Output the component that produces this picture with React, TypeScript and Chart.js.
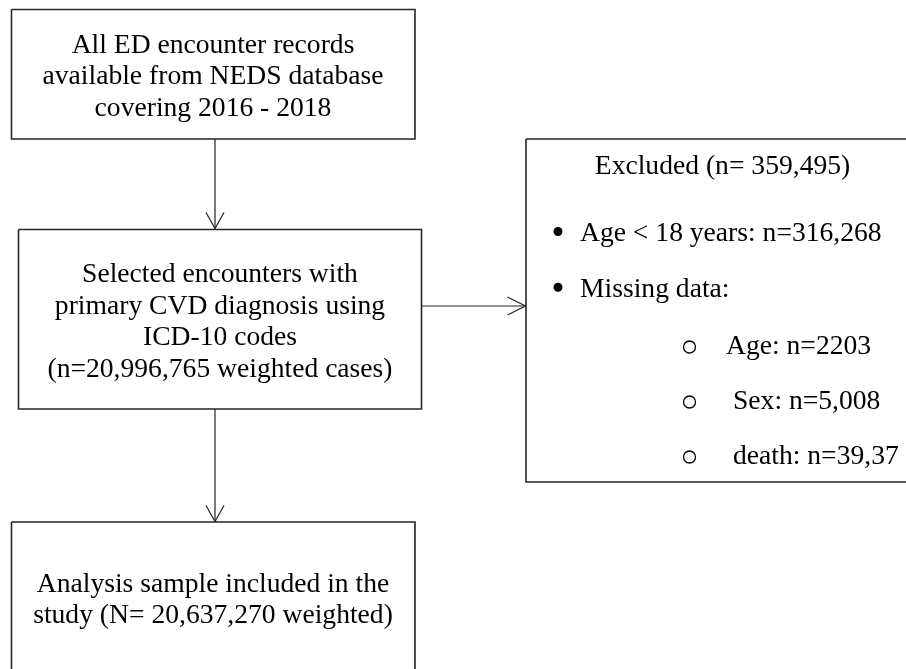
import React, { useEffect, useRef } from "react";
import { Chart, registerables } from "chart.js";

Chart.register(...registerables);

// ---------- content ----------
const box1Lines = ["All ED encounter records", "available from NEDS database", "covering 2016 - 2018"];
const box2Lines = [
  "Selected encounters with",
  "primary CVD diagnosis using",
  "ICD-10 codes",
  "(n=20,996,765 weighted cases)",
];
const excludedTitle = "Excluded (n= 359,495)";
const excludedItems = ["Age < 18 years: n=316,268", "Missing data:"];
const missingItems = ["Age: n=2203", "Sex: n=5,008", "death: n=39,37"];
const box4Lines = ["Analysis sample included in the", "study (N= 20,637,270 weighted)"];

// ---------- layout (data units = pixels) ----------
const W = 906;
const H = 669;
const FONT_SIZE = 27.6;
const LINE = 31.5;
const FONT = `${FONT_SIZE}px "Liberation Serif", "Times New Roman", serif`;

const boxRects = [
  { x0: 11.5, y0: 9.5, x1: 415, y1: 139 },
  { x0: 18.5, y0: 229.5, x1: 421.5, y1: 409 },
  { x0: 526, y0: 139, x1: 940, y1: 482 },
  { x0: 11.5, y0: 522, x1: 415, y1: 720 },
];

const arrows = [
  { from: [215, 139], to: [215, 228.5], dir: "down" },
  { from: [421.5, 306], to: [525.5, 306], dir: "right" },
  { from: [215, 409], to: [215, 521.5], dir: "down" },
];
const HEAD_LEN = 16;
const HEAD_HALF = 9;

const box1Text = { cx: 213, base: 52.5 };
const box2Text = { cx: 220, base: 282.3 };
const box4Text = { cx: 213, base: 591.5 };
const exclTitle = { cx: 722.5, base: 174 };
const bulletText = { x: 580, bases: [241, 296.7], dotX: 558, dotOff: 9.5 };
const subText = { xs: [726, 733, 733], bases: [353.5, 408.5, 463.5], dotX: 689.5, dotOff: 6.5 };

function rectPoints(r: { x0: number; y0: number; x1: number; y1: number }) {
  return [
    { x: r.x0, y: r.y0 },
    { x: r.x1, y: r.y0 },
    { x: r.x1, y: r.y1 },
    { x: r.x0, y: r.y1 },
    { x: r.x0, y: r.y0 },
  ];
}

function headPoints(a: { to: number[]; dir: string }) {
  const [tx, ty] = a.to;
  if (a.dir === "down") {
    return [
      { x: tx - HEAD_HALF, y: ty - HEAD_LEN },
      { x: tx, y: ty },
      { x: tx + HEAD_HALF, y: ty - HEAD_LEN },
    ];
  }
  return [
    { x: tx - HEAD_LEN - 2, y: ty - HEAD_HALF },
    { x: tx, y: ty },
    { x: tx - HEAD_LEN - 2, y: ty + HEAD_HALF },
  ];
}

const textPlugin = {
  id: "flowText",
  afterDatasetsDraw(chart: any) {
    const { ctx } = chart;
    const sx = chart.scales.x;
    const sy = chart.scales.y;
    const px = (v: number) => sx.getPixelForValue(v);
    const py = (v: number) => sy.getPixelForValue(v);
    ctx.save();
    ctx.fillStyle = "#000";
    ctx.font = FONT;
    ctx.textBaseline = "alphabetic";
    ctx.textAlign = "center";
    box1Lines.forEach((t, i) => ctx.fillText(t, px(box1Text.cx), py(box1Text.base + i * LINE)));
    box2Lines.forEach((t, i) => ctx.fillText(t, px(box2Text.cx), py(box2Text.base + i * LINE)));
    box4Lines.forEach((t, i) => ctx.fillText(t, px(box4Text.cx), py(box4Text.base + i * LINE)));
    ctx.fillText(excludedTitle, px(exclTitle.cx), py(exclTitle.base));
    ctx.textAlign = "left";
    excludedItems.forEach((t, i) => ctx.fillText(t, px(bulletText.x), py(bulletText.bases[i])));
    missingItems.forEach((t, i) => ctx.fillText(t, px(subText.xs[i]), py(subText.bases[i])));
    ctx.restore();
  },
};

export default function App() {
  const ref = useRef<HTMLCanvasElement | null>(null);

  useEffect(() => {
    document.body.style.margin = "0";
    const canvas = ref.current;
    if (!canvas) return;

    const lineDs = (data: any[], width: number, color: string) => ({
      type: "scatter" as const,
      data,
      showLine: true,
      borderColor: color,
      borderWidth: width,
      pointRadius: 0,
      pointHoverRadius: 0,
      fill: false,
      tension: 0,
      clip: false as any,
      borderJoinStyle: "miter" as const,
    });

    const datasets: any[] = [];
    boxRects.forEach((r) => datasets.push(lineDs(rectPoints(r), 1.6, "#262626")));
    arrows.forEach((a) => {
      datasets.push(lineDs([{ x: a.from[0], y: a.from[1] }, { x: a.to[0], y: a.to[1] }], 1.2, "#222"));
      datasets.push(lineDs(headPoints(a), 1.2, "#222"));
    });
    // filled bullets
    datasets.push({
      type: "scatter",
      data: bulletText.bases.map((b) => ({ x: bulletText.dotX, y: b - bulletText.dotOff })),
      pointRadius: 4.5,
      pointBackgroundColor: "#000",
      pointBorderColor: "#000",
      pointBorderWidth: 0,
      showLine: false,
    });
    // hollow sub-bullets
    datasets.push({
      type: "scatter",
      data: subText.bases.map((b) => ({ x: subText.dotX, y: b - subText.dotOff })),
      pointRadius: 6,
      pointBackgroundColor: "#fff",
      pointBorderColor: "#000",
      pointBorderWidth: 1.3,
      showLine: false,
    });

    const chart = new Chart(canvas, {
      type: "scatter",
      data: { datasets },
      options: {
        animation: false,
        responsive: false,
        devicePixelRatio: 1,
        layout: { padding: 0, autoPadding: false },
        events: [],
        plugins: { legend: { display: false }, tooltip: { enabled: false }, title: { display: false } },
        scales: {
          x: { type: "linear", min: 0, max: W, display: false },
          y: { type: "linear", min: 0, max: H, reverse: true, display: false },
        },
      },
      plugins: [textPlugin],
    } as any);

    return () => chart.destroy();
  }, []);

  return (
    <div style={{ position: "fixed", left: 0, top: 0, width: W, height: H, background: "#fff" }}>
      <canvas ref={ref} width={W} height={H} style={{ display: "block", width: W, height: H }} />
    </div>
  );
}
